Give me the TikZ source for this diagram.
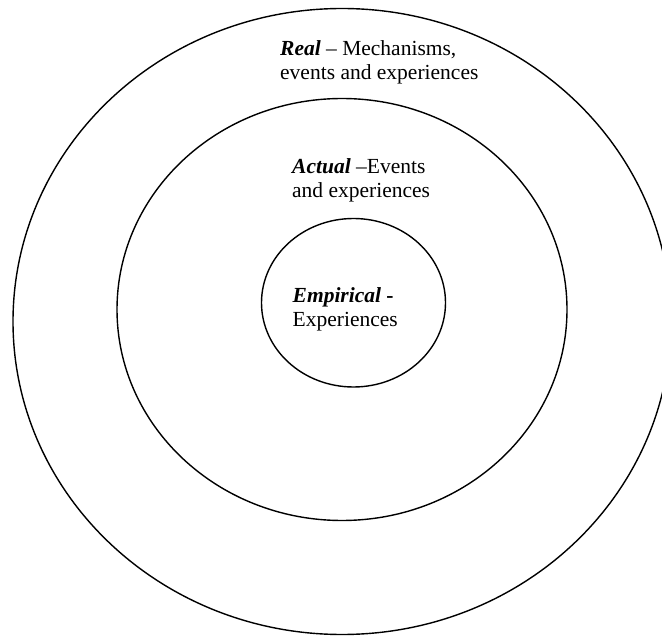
\documentclass[tikz,border=0pt]{standalone}
\usepackage{fontspec}
\setmainfont{Liberation Serif}
\usepackage{tikz}
\usetikzlibrary{positioning,calc}
\tikzstyle{ring} = [draw, line width=1.4pt]
\tikzstyle{lvltext} = [anchor=north west, inner sep=0pt, align=left, font=\fontsize{21.5pt}{24pt}\selectfont]

\begin{document}
\begin{tikzpicture}[x=1pt,y=-1pt]
    % Page frame
    \useasboundingbox (0,0) rectangle (662,636);
    \clip (0,0) rectangle (662,636);

    % Real (outer ring)
    \draw[ring] (342,321.5) ellipse [x radius=329, y radius=313];
    % Actual (middle ring)
    \draw[ring] (342,309.5) ellipse [x radius=225, y radius=211];
    % Empirical (inner ring)
    \draw[ring] (353.5,302.75) ellipse [x radius=92, y radius=84.25];

    % Labels
    \node[lvltext] (real) at (280,40.5) {\textbf{\textit{Real}} -- Mechanisms,\\events and experiences};
    \node[lvltext] (actual) at (292,158.5) {\textbf{\textit{Actual}} --Events\\and experiences};
    \node[lvltext] (empirical) at (292.5,287.5) {\textbf{\textit{Empirical} -}\\Experiences};
\end{tikzpicture}
\end{document}
